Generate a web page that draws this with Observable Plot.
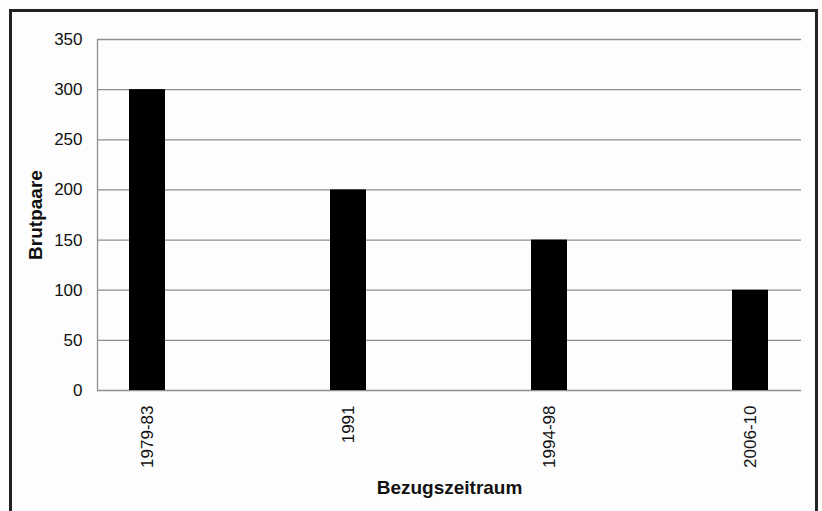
<!DOCTYPE html>
<html>
<head>
<meta charset="utf-8">
<script src="https://cdn.jsdelivr.net/npm/d3@7"></script>
<script src="https://cdn.jsdelivr.net/npm/@observablehq/plot@0.6"></script>
<style>
  html, body { margin: 0; padding: 0; background: #fdfdfd; overflow: hidden; }
  #wrap { position: relative; width: 822px; height: 511px; }
  #frame { position: absolute; left: 9px; top: 9px; width: 803px; height: 700px; border: 3px solid #222; box-sizing: content-box; pointer-events: none; }
  #chart { position: absolute; left: 0; top: 0; }
  svg { font-family: "Liberation Sans", Arial, sans-serif; }
</style>
</head>
<body>
<div id="wrap">
  <div id="chart"></div>
  <div id="frame"></div>
</div>
<script>
const periods = ["1979-83", "1991", "1994-98", "2006-10"];
const pairs = [300, 200, 150, 100];
const yTicks = [0, 50, 100, 150, 200, 250, 300, 350];

const data = periods.map((p, i) => ({period: p, value: pairs[i]}));

const chart = Plot.plot({
  width: 822,
  height: 511,
  marginLeft: 97,
  marginRight: 21,
  marginTop: 39,
  marginBottom: 121,
  style: {background: "transparent", fontSize: "17px", color: "#111"},
  x: {domain: periods, paddingInner: 0.82, paddingOuter: 0.16, align: 0.5, label: null},
  y: {domain: [0, 350], label: null},
  marks: [
    Plot.ruleY(yTicks, {stroke: "#8f8f8f", strokeWidth: 1.3}),
    Plot.frame({anchor: "left", stroke: "#8f8f8f", strokeWidth: 1.3}),
    Plot.barY(data, {x: "period", y: "value", fill: "#000"}),
    Plot.axisY(yTicks, {tickSize: 0, tickPadding: 15, label: null, fontSize: 17}),
    Plot.axisX({tickSize: 0, tickPadding: 15, tickRotate: -90, label: null, fontSize: 17}),
    Plot.text(["Brutpaare"], {frameAnchor: "left", dx: -62, rotate: -90, textAnchor: "middle", fontWeight: "bold", fontSize: 19}),
    Plot.text(["Bezugszeitraum"], {frameAnchor: "bottom", dy: 103, fontWeight: "bold", fontSize: 19})
  ]
});
document.getElementById("chart").appendChild(chart);
</script>
</body>
</html>
